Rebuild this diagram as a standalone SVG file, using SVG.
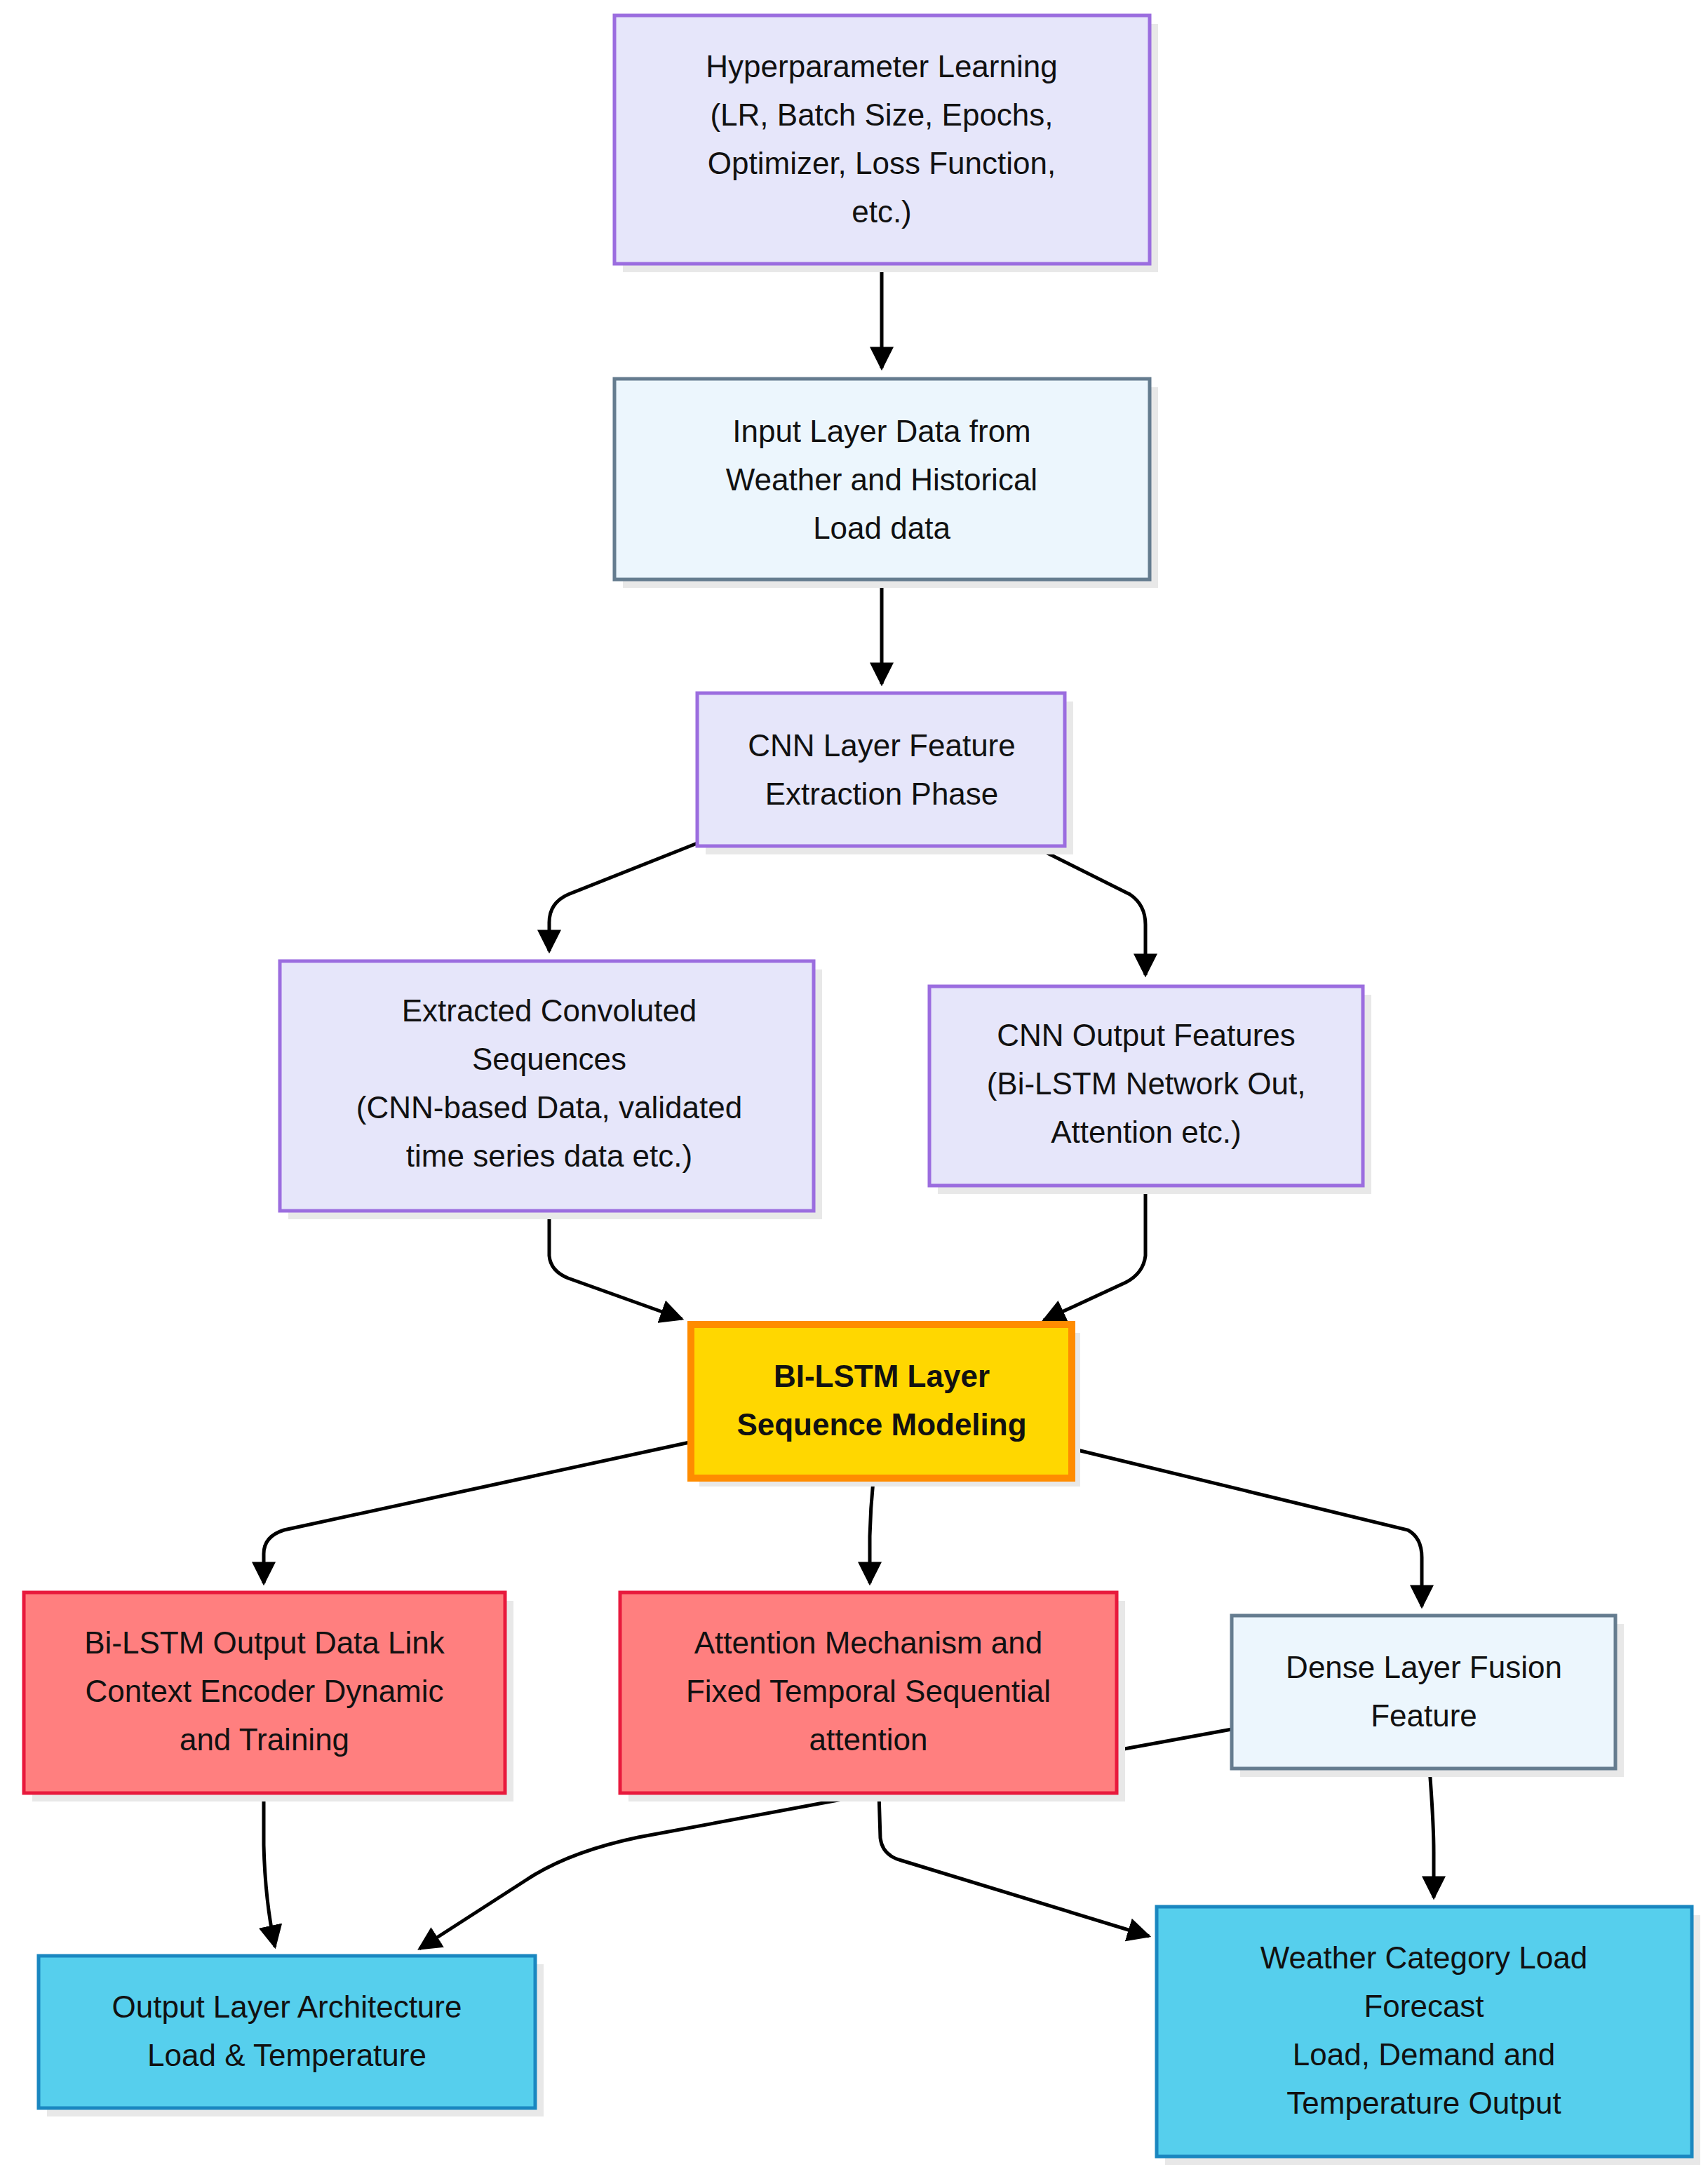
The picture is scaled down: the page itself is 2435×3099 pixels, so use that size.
<svg xmlns="http://www.w3.org/2000/svg" width="2435" height="3099" viewBox="0 0 2435 3099">
<defs>
<marker id="ah" markerWidth="10" markerHeight="10" refX="8" refY="5" orient="auto" markerUnits="userSpaceOnUse" viewBox="0 0 10 10" style="overflow:visible"><path d="M0,0 L10,5 L0,10 z" fill="#000" transform="scale(3.4) translate(-2.5,-5) translate(0,5)"/></marker>
<marker id="a" viewBox="0 0 10 10" refX="9" refY="5" markerWidth="34" markerHeight="34" markerUnits="userSpaceOnUse" orient="auto"><path d="M0,0 L10,5 L0,10 z" fill="#000"/></marker>
</defs>
<style>
text{font-family:"Liberation Sans",Arial,sans-serif;font-size:44px;fill:#111;text-anchor:middle}
.b text{font-weight:bold}
.sh{fill:#e8e8e8}
.p{fill:#e6e6fa;stroke:#9b6ddf;stroke-width:5}
.l{fill:#ecf6fd;stroke:#657c8f;stroke-width:5}
.y{fill:#ffd700;stroke:#ff8c00;stroke-width:10}
.r{fill:#ff7f7f;stroke:#e8193c;stroke-width:5}
.c{fill:#56cfed;stroke:#1a87c0;stroke-width:5}
.e{fill:none;stroke:#000;stroke-width:5}
.e path.ar{marker-end:url(#a)}
</style>
<rect width="2435" height="3099" fill="#fff"/>
<g id="connectors" class="e">
<path class="ar" d="M1257,376 L1257,525"/>
<path class="ar" d="M1257,826 L1257,975"/>
<path class="ar" d="M994,1202 L810,1275 Q783,1287 783,1315 L783,1356"/>
<path class="ar" d="M1473,1206 L1611,1275 Q1633,1290 1633,1318 L1633,1390"/>
<path class="ar" d="M783,1726 L783,1790 Q785,1812 810,1822 L972,1880"/>
<path class="ar" d="M1633,1690 L1633,1790 Q1630,1815 1605,1828 L1488,1882"/>
<path class="ar" d="M983,2056 L405,2181 Q376,2190 376,2215 L376,2257"/>
<path class="ar" d="M1245,2110 Q1241,2150 1240,2190 L1240,2257"/>
<path class="ar" d="M1532,2066 L2007,2181 Q2027,2192 2027,2220 L2027,2290"/>
<path d="M1756,2465 L1592,2495"/>
<path class="ar" d="M1249,2556 L910,2619 Q810,2640 750,2680 L598,2778"/>
<path class="ar" d="M1253,2556 L1255,2620 Q1258,2645 1285,2652 L1638,2760"/>
<path class="ar" d="M376,2556 L376,2630 Q378,2710 392,2775"/>
<path class="ar" d="M2038,2521 Q2044,2600 2044,2640 L2044,2705"/>
</g>
<g id="n1"><rect class="sh" x="888" y="34" width="763" height="354"/><rect class="p" x="876" y="22" width="763" height="354"/>
<text x="1257" y="110">Hyperparameter Learning</text><text x="1257" y="179">(LR, Batch Size, Epochs,</text><text x="1257" y="248">Optimizer, Loss Function,</text><text x="1257" y="317">etc.)</text></g>
<g id="n2"><rect class="sh" x="888" y="552" width="763" height="286"/><rect class="l" x="876" y="540" width="763" height="286"/>
<text x="1257" y="630">Input Layer Data from</text><text x="1257" y="699">Weather and Historical</text><text x="1257" y="768">Load data</text></g>
<g id="n3"><rect class="sh" x="1006" y="1000" width="524" height="218"/><rect class="p" x="994" y="988" width="524" height="218"/>
<text x="1257" y="1078">CNN Layer Feature</text><text x="1257" y="1147">Extraction Phase</text></g>
<g id="n4"><rect class="sh" x="411" y="1382" width="761" height="356"/><rect class="p" x="399" y="1370" width="761" height="356"/>
<text x="783" y="1456">Extracted Convoluted</text><text x="783" y="1525">Sequences</text><text x="783" y="1594">(CNN-based Data, validated</text><text x="783" y="1663">time series data etc.)</text></g>
<g id="n5"><rect class="sh" x="1337" y="1418" width="618" height="284"/><rect class="p" x="1325" y="1406" width="618" height="284"/>
<text x="1634" y="1491">CNN Output Features</text><text x="1634" y="1560">(Bi-LSTM Network Out,</text><text x="1634" y="1629">Attention etc.)</text></g>
<g id="n6" class="b"><rect class="sh" x="997" y="1900" width="543" height="219"/><rect class="y" x="985" y="1888" width="543" height="219"/>
<text x="1257" y="1977">BI-LSTM Layer</text><text x="1257" y="2046">Sequence Modeling</text></g>
<g id="n7"><rect class="sh" x="46" y="2282" width="686" height="286"/><rect class="r" x="34" y="2270" width="686" height="286"/>
<text x="377" y="2357">Bi-LSTM Output Data Link</text><text x="377" y="2426">Context Encoder Dynamic</text><text x="377" y="2495">and Training</text></g>
<g id="n8"><rect class="sh" x="896" y="2282" width="708" height="286"/><rect class="r" x="884" y="2270" width="708" height="286"/>
<text x="1238" y="2357">Attention Mechanism and</text><text x="1238" y="2426">Fixed Temporal Sequential</text><text x="1238" y="2495">attention</text></g>
<g id="n9"><rect class="sh" x="1768" y="2315" width="547" height="218"/><rect class="l" x="1756" y="2303" width="547" height="218"/>
<text x="2030" y="2392">Dense Layer Fusion</text><text x="2030" y="2461">Feature</text></g>
<g id="n10"><rect class="sh" x="67" y="2800" width="708" height="217"/><rect class="c" x="55" y="2788" width="708" height="217"/>
<text x="409" y="2876">Output Layer Architecture</text><text x="409" y="2945">Load &amp; Temperature</text></g>
<g id="n11"><rect class="sh" x="1661" y="2730" width="763" height="356"/><rect class="c" x="1649" y="2718" width="763" height="356"/>
<text x="2030" y="2806">Weather Category Load</text><text x="2030" y="2875">Forecast</text><text x="2030" y="2944">Load, Demand and</text><text x="2030" y="3013">Temperature Output</text></g>
</svg>
